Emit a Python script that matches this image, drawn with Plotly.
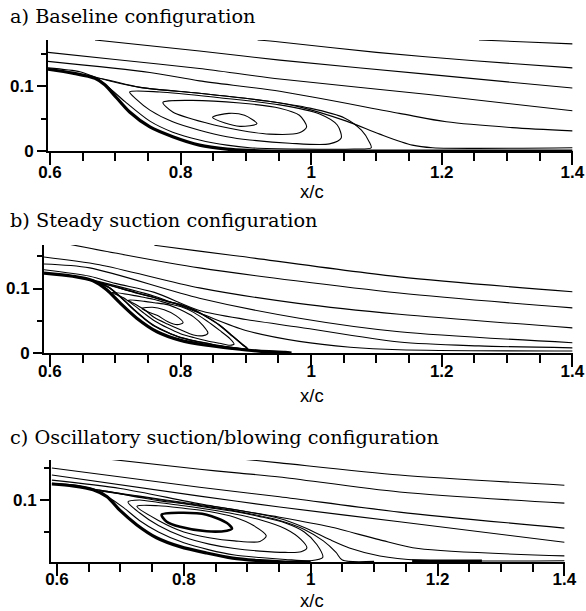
import plotly.graph_objects as go

# ---------------- Panel a: Baseline ----------------
a_body_x = [0.597, 0.635, 0.669, 0.684, 0.702, 0.722, 0.753, 0.788, 0.829, 0.871, 0.906, 0.95, 1.40]
a_body_y = [0.126, 0.120, 0.112, 0.102, 0.082, 0.060, 0.037, 0.022, 0.009, 0.003, 0.001, 0.0, 0.0]
a_l0_x = [1.257, 1.33, 1.40]
a_l0_y = [0.171, 0.168, 0.165]
a_l1_x = [0.918, 0.952, 1.10, 1.25, 1.40]
a_l1_y = [0.171, 0.168, 0.152, 0.139, 0.128]
a_l2_x = [0.669, 0.829, 0.952, 1.18, 1.40]
a_l2_y = [0.171, 0.154, 0.140, 0.118, 0.097]
a_l3_x = [0.597, 0.70, 0.829, 0.952, 1.18, 1.40]
a_l3_y = [0.152, 0.141, 0.127, 0.111, 0.087, 0.062]
a_l4_x = [0.597, 0.753, 0.829, 0.952, 1.135, 1.207, 1.308, 1.40]
a_l4_y = [0.138, 0.121, 0.108, 0.092, 0.058, 0.045, 0.036, 0.031]
a_l5_x = [0.597, 0.646, 0.669, 0.738, 0.829, 0.932, 0.982, 1.054, 1.105, 1.155, 1.186, 1.40]
a_l5_y = [0.128, 0.122, 0.114, 0.098, 0.089, 0.077, 0.068, 0.046, 0.026, 0.009, 0.005, 0.005]
a_sep_x = [0.672, 0.738, 0.829, 0.932, 0.998, 1.051, 1.077, 1.089, 1.092, 1.066, 0.982, 0.906, 0.871, 0.829, 0.788, 0.753, 0.715, 0.690, 0.672]
a_sep_y = [0.112, 0.098, 0.089, 0.077, 0.066, 0.051, 0.032, 0.014, 0.005, 0.003, 0.003, 0.005, 0.009, 0.017, 0.029, 0.046, 0.076, 0.098, 0.112]
a_out_x = [0.722, 0.768, 0.860, 0.952, 1.013, 1.040, 1.046, 1.028, 0.967, 0.906, 0.871, 0.829, 0.788, 0.753, 0.732, 0.722]
a_out_y = [0.091, 0.091, 0.082, 0.071, 0.057, 0.040, 0.020, 0.011, 0.012, 0.017, 0.022, 0.032, 0.045, 0.063, 0.080, 0.091]
a_mid_x = [0.773, 0.814, 0.891, 0.952, 0.982, 0.993, 0.982, 0.936, 0.891, 0.840, 0.788, 0.773]
a_mid_y = [0.075, 0.078, 0.074, 0.066, 0.055, 0.037, 0.028, 0.026, 0.032, 0.043, 0.060, 0.075]
a_eye_x = [0.849, 0.874, 0.898, 0.917, 0.891, 0.868, 0.849]
a_eye_y = [0.052, 0.058, 0.055, 0.042, 0.038, 0.043, 0.052]

# ---------------- Panel b: Steady suction ----------------
b_body_x = [0.591, 0.635, 0.666, 0.687, 0.707, 0.733, 0.764, 0.799, 0.840, 0.880, 0.92, 0.96, 0.97]
b_body_y = [0.124, 0.119, 0.112, 0.098, 0.078, 0.054, 0.033, 0.020, 0.012, 0.007, 0.003, 0.001, 0.0]
b_l1_x = [0.760, 0.829, 0.891, 1.135, 1.40]
b_l1_y = [0.167, 0.158, 0.150, 0.118, 0.095]
b_l2_x = [0.628, 0.70, 0.829, 1.135, 1.40]
b_l2_y = [0.169, 0.155, 0.132, 0.093, 0.070]
b_l3_x = [0.591, 0.676, 0.829, 0.98, 1.135, 1.40]
b_l3_y = [0.149, 0.137, 0.101, 0.077, 0.060, 0.039]
b_l4_x = [0.591, 0.661, 0.829, 0.982, 1.135, 1.40]
b_l4_y = [0.138, 0.132, 0.085, 0.054, 0.033, 0.016]
b_l5_x = [0.591, 0.661, 0.70, 0.76, 0.829, 0.90, 0.982, 1.135, 1.257, 1.40]
b_l5_y = [0.129, 0.119, 0.108, 0.094, 0.066, 0.052, 0.040, 0.017, 0.011, 0.008]
b_l6_x = [0.666, 0.76, 0.829, 0.90, 0.982, 1.06, 1.135, 1.40]
b_l6_y = [0.113, 0.088, 0.062, 0.035, 0.018, 0.009, 0.005, 0.003]
b_sep_x = [0.666, 0.73, 0.745, 0.76, 0.78, 0.80, 0.82, 0.84, 0.86, 0.88, 0.895, 0.903, 0.89, 0.86, 0.84, 0.82, 0.80, 0.78, 0.76, 0.745, 0.73, 0.71, 0.69, 0.666]
b_sep_y = [0.112, 0.094, 0.090, 0.086, 0.080, 0.075, 0.067, 0.056, 0.043, 0.026, 0.013, 0.006, 0.007, 0.011, 0.015, 0.019, 0.024, 0.032, 0.042, 0.053, 0.066, 0.085, 0.102, 0.112]
b_out_x = [0.695, 0.73, 0.745, 0.76, 0.78, 0.80, 0.82, 0.84, 0.86, 0.876, 0.882, 0.876, 0.86, 0.84, 0.82, 0.80, 0.78, 0.76, 0.745, 0.73, 0.712, 0.695]
b_out_y = [0.094, 0.089, 0.086, 0.083, 0.077, 0.072, 0.063, 0.050, 0.035, 0.022, 0.014, 0.012, 0.015, 0.019, 0.024, 0.030, 0.039, 0.050, 0.061, 0.073, 0.086, 0.094]
b_mid_x = [0.720, 0.745, 0.76, 0.78, 0.80, 0.82, 0.835, 0.842, 0.835, 0.82, 0.80, 0.78, 0.76, 0.745, 0.73, 0.720]
b_mid_y = [0.082, 0.080, 0.078, 0.075, 0.067, 0.056, 0.042, 0.031, 0.027, 0.028, 0.036, 0.045, 0.055, 0.067, 0.076, 0.082]
b_eye_x = [0.741, 0.757, 0.775, 0.793, 0.804, 0.795, 0.78, 0.765, 0.75, 0.741]
b_eye_y = [0.069, 0.071, 0.067, 0.058, 0.047, 0.044, 0.049, 0.058, 0.064, 0.069]

# ---------------- Panel c: Oscillatory suction/blowing ----------------
c_body_x = [0.592, 0.625, 0.657, 0.679, 0.699, 0.726, 0.757, 0.794, 0.836, 0.877, 0.92, 0.96, 1.0]
c_body_y = [0.125, 0.122, 0.116, 0.105, 0.084, 0.061, 0.041, 0.027, 0.017, 0.009, 0.005, 0.003, 0.003]
c_wall_x = [1.16, 1.27]
c_wall_y = [0.005, 0.005]
c_l0_x = [0.891, 0.951, 1.14, 1.40]
c_l0_y = [0.164, 0.158, 0.139, 0.123]
c_l1_x = [0.680, 0.825, 0.888, 0.951, 1.14, 1.40]
c_l1_y = [0.164, 0.148, 0.142, 0.136, 0.1125, 0.095]
c_l2_x = [0.592, 0.825, 0.951, 1.14, 1.40]
c_l2_y = [0.150, 0.120, 0.105, 0.081, 0.056]
c_l3_x = [0.592, 0.825, 0.951, 1.14, 1.40]
c_l3_y = [0.139, 0.106, 0.089, 0.066, 0.034]
c_l4_x = [0.592, 0.70, 0.825, 0.951, 1.03, 1.108, 1.17, 1.40]
c_l4_y = [0.131, 0.118, 0.094, 0.073, 0.058, 0.038, 0.024, 0.0125]
c_l5_x = [0.592, 0.63, 0.668, 0.73, 0.80, 0.88, 0.951, 0.99, 1.03, 1.061, 1.109, 1.172, 1.40]
c_l5_y = [0.126, 0.123, 0.115, 0.106, 0.096, 0.085, 0.071, 0.057, 0.038, 0.025, 0.0125, 0.006, 0.005]
c_l6_x = [0.668, 0.80, 0.88, 0.951, 0.99, 1.02, 1.04, 1.05, 1.10]
c_l6_y = [0.114, 0.095, 0.083, 0.068, 0.054, 0.036, 0.018, 0.006, 0.004]
c_sep_x = [0.660, 0.73, 0.76, 0.80, 0.84, 0.88, 0.92, 0.96, 0.99, 1.01, 1.019, 1.00, 0.96, 0.92, 0.88, 0.84, 0.80, 0.76, 0.73, 0.705, 0.68, 0.660]
c_sep_y = [0.116, 0.104, 0.099, 0.094, 0.088, 0.082, 0.074, 0.064, 0.050, 0.030, 0.010, 0.005, 0.007, 0.010, 0.014, 0.022, 0.033, 0.050, 0.068, 0.088, 0.105, 0.116]
c_mid2_x = [0.712, 0.73, 0.76, 0.80, 0.84, 0.88, 0.92, 0.96, 0.985, 0.994, 0.985, 0.96, 0.92, 0.88, 0.84, 0.80, 0.76, 0.73, 0.712]
c_mid2_y = [0.097, 0.100, 0.096, 0.091, 0.085, 0.078, 0.069, 0.055, 0.038, 0.025, 0.019, 0.018, 0.020, 0.024, 0.031, 0.042, 0.060, 0.080, 0.097]
c_mid1_x = [0.726, 0.76, 0.80, 0.84, 0.88, 0.91, 0.93, 0.92, 0.88, 0.84, 0.80, 0.76, 0.726]
c_mid1_y = [0.090, 0.091, 0.087, 0.082, 0.073, 0.060, 0.044, 0.035, 0.036, 0.041, 0.050, 0.068, 0.090]
c_eye_x = [0.765, 0.794, 0.836, 0.868, 0.876, 0.868, 0.836, 0.794, 0.773, 0.765]
c_eye_y = [0.077, 0.080, 0.077, 0.064, 0.055, 0.052, 0.051, 0.058, 0.066, 0.077]

titles = ["a) Baseline configuration",
          "b) Steady suction configuration",
          "c) Oscillatory suction/blowing configuration"]
x_title = "x/c"

W, H = 586, 611
fig = go.Figure()

def add(x, y, ax, width=1.1, smooth=True):
    fig.add_trace(go.Scatter(
        x=x, y=y, mode="lines", xaxis="x" + ax, yaxis="y" + ax,
        line=dict(color="black", width=width, shape="spline" if smooth else "linear", smoothing=0.8),
        hoverinfo="skip", showlegend=False))

# panel a
for xs, ys in [(a_l0_x, a_l0_y), (a_l1_x, a_l1_y), (a_l2_x, a_l2_y), (a_l3_x, a_l3_y),
               (a_l4_x, a_l4_y), (a_l5_x, a_l5_y), (a_sep_x, a_sep_y), (a_out_x, a_out_y),
               (a_mid_x, a_mid_y), (a_eye_x, a_eye_y)]:
    add(xs, ys, "")
add(a_body_x, a_body_y, "", width=3.2)
# panel b
for xs, ys in [(b_l1_x, b_l1_y), (b_l2_x, b_l2_y), (b_l3_x, b_l3_y), (b_l4_x, b_l4_y),
               (b_l5_x, b_l5_y), (b_l6_x, b_l6_y), (b_sep_x, b_sep_y), (b_out_x, b_out_y),
               (b_mid_x, b_mid_y), (b_eye_x, b_eye_y)]:
    add(xs, ys, "2")
add(b_sep_x, b_sep_y, "2", width=1.6)
add(b_body_x, b_body_y, "2", width=3.2)
# panel c
for xs, ys in [(c_l0_x, c_l0_y), (c_l1_x, c_l1_y), (c_l2_x, c_l2_y), (c_l3_x, c_l3_y),
               (c_l4_x, c_l4_y), (c_l5_x, c_l5_y), (c_l6_x, c_l6_y), (c_sep_x, c_sep_y),
               (c_mid2_x, c_mid2_y), (c_mid1_x, c_mid1_y)]:
    add(xs, ys, "3")
add(c_eye_x, c_eye_y, "3", width=2.6)
add(c_body_x, c_body_y, "3", width=3.2)
add(c_wall_x, c_wall_y, "3", width=2.6, smooth=False)

tickfont = dict(family="Liberation Sans", size=17, color="black", weight="bold")

def xax(px0, px1, rng, anchor, standoff):
    return dict(domain=[px0 / W, px1 / W], range=rng, anchor=anchor, automargin=False,
                showline=True, linecolor="black", linewidth=2, mirror=False,
                ticks="outside", ticklen=12, tickwidth=1.5, tickcolor="black",
                tick0=0.6, dtick=0.2, tickfont=tickfont, ticklabelstandoff=standoff,
                minor=dict(tick0=0.6, dtick=0.05, ticks="outside", ticklen=8,
                           tickwidth=1.5, tickcolor="black", showgrid=False),
                showgrid=False, zeroline=False, fixedrange=True)

def yax(py0, py1, rng, anchor):
    return dict(domain=[1 - py1 / H, 1 - py0 / H], range=rng, anchor=anchor, automargin=False,
                showline=True, linecolor="black", linewidth=2, mirror=False,
                ticks="outside", ticklen=9, tickwidth=1.5, tickcolor="black",
                tick0=0, dtick=0.1, tickfont=tickfont,
                minor=dict(tick0=0, dtick=0.05, ticks="outside", ticklen=5,
                           tickwidth=1.5, tickcolor="black", showgrid=False),
                showgrid=False, zeroline=False, fixedrange=True)

annotations = []
for txt, ty in zip(titles, [16, 220, 438]):
    annotations.append(dict(text=txt, x=8 / W, y=1 - ty / H, xref="paper", yref="paper",
                            xanchor="left", yanchor="middle", showarrow=False,
                            font=dict(family="DejaVu Serif", size=19.3, color="black")))
for ty in [191, 395, 600]:
    annotations.append(dict(text=x_title, x=312 / W, y=1 - ty / H, xref="paper", yref="paper",
                            xanchor="center", yanchor="middle", showarrow=False,
                            font=dict(family="Liberation Sans", size=18.5, color="black")))

fig.update_layout(
    width=W, height=H, margin=dict(l=0, r=0, t=0, b=0, autoexpand=False),
    paper_bgcolor="white", plot_bgcolor="white", showlegend=False,
    xaxis=xax(48, 573, [0.597, 1.401], "y", -7),
    yaxis=yax(40, 151, [0, 0.171], "x"),
    xaxis2=xax(44, 573, [0.591, 1.401], "y2", -10),
    yaxis2=yax(245, 353, [0, 0.1675], "x2"),
    xaxis3=xax(51, 565, [0.5906, 1.401], "y3", -11),
    yaxis3=yax(460, 562, [0.003, 0.1625], "x3"),
    annotations=annotations,
)

fig.write_html("out.html")
